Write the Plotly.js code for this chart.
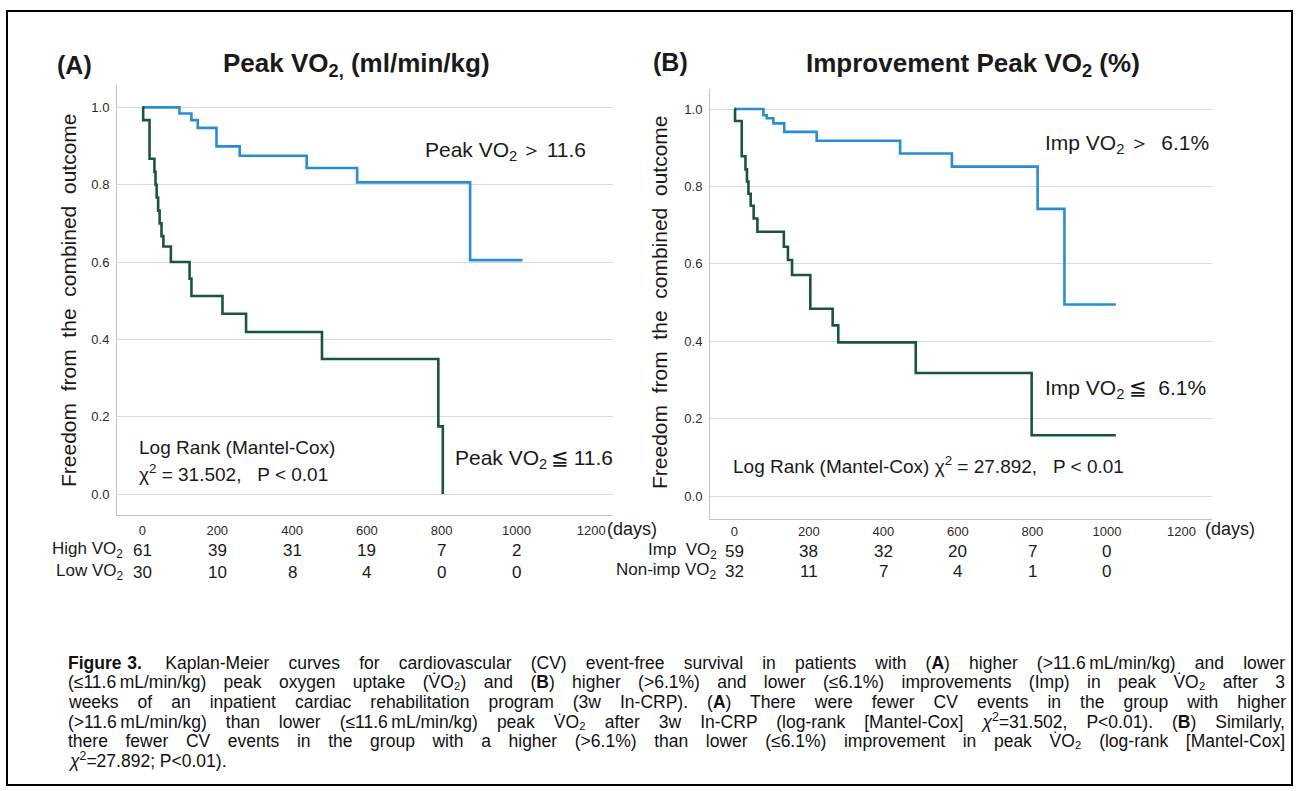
<!DOCTYPE html>
<html>
<head>
<meta charset="utf-8">
<script src="https://cdn.plot.ly/plotly-3.0.1.min.js"></script>
<style>html,body{margin:0;padding:0;background:#fff;}#chart{width:1299px;height:791px;}</style>
</head>
<body>
<div id="chart"></div>
<script>
// ---------------- DATA ----------------
// Panel A: Peak VO2 (ml/min/kg)
const daysA_high = [0, 99, 131, 148, 198, 260, 439, 574, 876, 1016];
const survA_high = [1.0, 0.984, 0.967, 0.947, 0.899, 0.875, 0.843, 0.806, 0.605, 0.605];
const daysA_low  = [0, 2, 19, 32, 35, 38, 42, 46, 51, 56, 76, 126, 131, 214, 277, 480, 791, 803];
const survA_low  = [1.0, 0.967, 0.867, 0.833, 0.80, 0.767, 0.733, 0.70, 0.667, 0.64, 0.60, 0.557, 0.512, 0.466, 0.419, 0.349, 0.175, 0.0];
// Panel B: Improvement peak VO2 (%)
const daysB_imp = [0, 78, 87, 105, 134, 221, 445, 584, 814, 886, 1024];
const survB_imp = [1.0, 0.984, 0.976, 0.963, 0.941, 0.918, 0.885, 0.851, 0.742, 0.495, 0.495];
const daysB_non = [0, 2, 20, 30, 34, 38, 44, 52, 62, 133, 144, 155, 204, 264, 279, 487, 798, 1024];
const survB_non = [1.0, 0.969, 0.878, 0.844, 0.8125, 0.781, 0.75, 0.717, 0.683, 0.644, 0.61, 0.571, 0.484, 0.441, 0.397, 0.318, 0.157, 0.157];

// Axis ticks
const xTickVals = [0, 200, 400, 600, 800, 1000, 1200];
const xTickText = ['0', '200', '400', '600', '800', '1000', '1200'];
const yTickVals = [0, 0.2, 0.4, 0.6, 0.8, 1.0];
const yTickText = ['0.0', '0.2', '0.4', '0.6', '0.8', '1.0'];

// Numbers at risk
const riskDays = [0, 200, 400, 600, 800, 1000];
const riskA_high = [61, 39, 31, 19, 7, 2];
const riskA_low  = [30, 10, 8, 4, 0, 0];
const riskB_imp  = [59, 38, 32, 20, 7, 0];
const riskB_non  = [32, 11, 7, 4, 1, 0];

const captionLines = [
  '<b>Figure\u20043.</b>\u2003\u2004Kaplan-Meier curves for cardiovascular (CV) event-free survival in patients with (<b>A</b>) higher (>11.6\u2009mL/min/kg) and lower',
  '(≤11.6\u2009mL/min/kg) peak oxygen uptake (V\u0307O₂) and (<b>B</b>) higher (>6.1%) and lower (≤6.1%) improvements (Imp) in peak V\u0307O₂ after 3',
  'weeks of an inpatient cardiac rehabilitation program (3w In-CRP). (<b>A</b>) There were fewer CV events in the group with higher',
  '(>11.6\u2009mL/min/kg) than lower (≤11.6\u2009mL/min/kg) peak V\u0307O₂ after 3w In-CRP (log-rank [Mantel-Cox] <i>χ</i><sup>2</sup>=31.502, P<0.01). (<b>B</b>) Similarly,',
  'there fewer CV events in the group with a higher (>6.1%) than lower (≤6.1%) improvement in peak V\u0307O₂ (log-rank [Mantel-Cox]',
  '<i>χ</i><sup>2</sup>=27.892; P<0.01).'
];

// ---------------- STYLE ----------------
const W = 1299, H = 791;
const px = v => v / W;
const py = v => 1 - v / H;
const SANS = 'Arial, "Liberation Sans", sans-serif';
const BLUE = '#2a8dd2';
const GREEN = '#1b5444';
const INK = '#1a1a1a';

function kmTrace(x, y, color, xa, ya) {
  return {x: x, y: y, type: 'scatter', mode: 'lines', line: {shape: 'hv', color: color, width: 2.6},
          xaxis: xa, yaxis: ya, hoverinfo: 'skip', showlegend: false};
}
const traces = [
  kmTrace(daysA_high, survA_high, BLUE, 'x', 'y'),
  kmTrace(daysA_low, survA_low, GREEN, 'x', 'y'),
  kmTrace(daysB_imp, survB_imp, BLUE, 'x2', 'y2'),
  kmTrace(daysB_non, survB_non, GREEN, 'x2', 'y2')
];

function xAxis(dom, rng, anchor, standoff) {
  return {domain: dom, range: rng, anchor: anchor, showline: true, linecolor: '#c4c4c4', linewidth: 1,
          showgrid: false, zeroline: false, ticks: '', tickvals: xTickVals, ticktext: xTickText,
          ticklabelstandoff: standoff, tickfont: {family: SANS, size: 13, color: '#2a2a2a'}, fixedrange: true};
}
function yAxis(dom, rng, anchor) {
  return {domain: dom, range: rng, anchor: anchor, showline: true, linecolor: '#c4c4c4', linewidth: 1,
          showgrid: true, gridcolor: '#dadada', gridwidth: 1, zeroline: false, ticks: '',
          tickvals: yTickVals, ticktext: yTickText, ticklabelstandoff: 4,
          tickfont: {family: SANS, size: 13, color: '#2a2a2a'}, fixedrange: true};
}

const ann = [];
function txt(text, x, y, size, opts) {
  ann.push(Object.assign({text: text, x: px(x), y: py(y), xref: 'paper', yref: 'paper', showarrow: false,
    xanchor: 'left', yanchor: 'middle', align: 'left', font: {family: SANS, size: size, color: INK}}, opts || {}));
}
// panel labels & titles
txt('<b>(A)</b>', 74, 65, 25, {xanchor: 'center'});
txt('<b>Peak VO<sub>2,</sub> (ml/min/kg)</b>', 356, 64, 26, {xanchor: 'center'});
txt('<b>(B)</b>', 670, 62, 25, {xanchor: 'center'});
txt('<b>Improvement Peak VO<sub>2</sub> (%)</b>', 973, 64, 26, {xanchor: 'center'});
// y axis titles
const yTitle = 'Freedom\u00a0 from\u00a0 the\u00a0 combined\u00a0 outcome';
txt(yTitle, 68, 300, 21, {xanchor: 'center', textangle: -90});
txt(yTitle, 659, 302, 21, {xanchor: 'center', textangle: -90});
// in-plot labels
txt('Peak VO<sub>2</sub>\u2009＞\u200911.6', 423, 151, 21);
txt('Peak VO<sub>2</sub>\u2009≦\u200911.6', 453, 459, 21);
txt('Log Rank (Mantel-Cox)', 137, 447, 19);
txt('χ<sup>2</sup> = 31.502,\u00a0\u00a0 P < 0.01', 137, 473, 19);
txt('Imp VO<sub>2</sub>\u2009＞\u00a0 6.1%', 1043, 144, 21);
txt('Imp VO<sub>2</sub>\u2009≦\u00a0 6.1%', 1043, 389, 21);
txt('Log Rank (Mantel-Cox) χ<sup>2</sup> = 27.892,\u00a0\u00a0 P < 0.01', 731, 465, 19);
// days units
ann.push({text: '(days)', x: 1200, xref: 'x', y: py(529), yref: 'paper', xshift: 14, xanchor: 'left', yanchor: 'middle',
          showarrow: false, font: {family: SANS, size: 18, color: INK}});
ann.push({text: '(days)', x: 1200, xref: 'x2', y: py(529), yref: 'paper', xshift: 22, xanchor: 'left', yanchor: 'middle',
          showarrow: false, font: {family: SANS, size: 18, color: INK}});
// number at risk table
function riskRow(label, labelX, values, xref, y) {
  txt(label, labelX, y, 17, {xanchor: 'right'});
  values.forEach((v, i) => ann.push({text: String(v), x: riskDays[i], xref: xref, y: py(y), yref: 'paper',
    xanchor: 'center', yanchor: 'middle', showarrow: false, font: {family: SANS, size: 17, color: INK}}));
}
riskRow('High VO<sub>2</sub>', 125, riskA_high, 'x', 550);
riskRow('Low VO<sub>2</sub>', 125, riskA_low, 'x', 572);
riskRow('Imp\u00a0 VO<sub>2</sub>', 719, riskB_imp, 'x2', 551);
riskRow('Non-imp VO<sub>2</sub>', 719, riskB_non, 'x2', 571);
// caption
const captionStart = ann.length;
const capLeft = 66, capRight = 1283;
captionLines.forEach((line, i) => txt(line, capLeft, 663 + i * 19.4, 17.5, {font: {family: SANS, size: 17.5, color: '#111'}}));

const layout = {
  width: W, height: H, margin: {l: 0, r: 0, t: 0, b: 0}, paper_bgcolor: '#fff', plot_bgcolor: '#fff',
  showlegend: false, font: {family: SANS, color: INK},
  xaxis: xAxis([px(117), px(613)], [-68, 1258], 'y', 3),
  yaxis: yAxis([py(515), py(85)], [-0.0543, 1.0578], 'x'),
  xaxis2: xAxis([px(710), px(1212)], [-65.2, 1282], 'y2', 0),
  yaxis2: yAxis([py(519), py(89)], [-0.0594, 1.0517], 'x2'),
  annotations: ann,
  shapes: [{type: 'rect', xref: 'paper', yref: 'paper', x0: px(7), x1: px(1292), y0: py(11), y1: py(785),
            line: {color: '#000', width: 2}, fillcolor: 'rgba(0,0,0,0)'}]
};

Plotly.newPlot('chart', traces, layout, {staticPlot: true, displayModeBar: false}).then(gd => {
  // justify caption lines (all but last) to the right margin
  const target = capRight - capLeft;
  for (let i = 0; i < captionLines.length - 1; i++) {
    const g = gd.querySelector('.annotation[data-index="' + (captionStart + i) + '"] text.annotation-text');
    if (!g) continue;
    const len = g.getComputedTextLength();
    const spaces = (g.textContent.match(/[ \u00a0]/g) || []).length;
    if (len < target && spaces > 0) {
      g.style.wordSpacing = ((target - len) / spaces) + 'px';
    } else if (len > target) {
      g.setAttribute('textLength', target);
      g.setAttribute('lengthAdjust', 'spacingAndGlyphs');
    }
  }
});
</script>
</body>
</html>
